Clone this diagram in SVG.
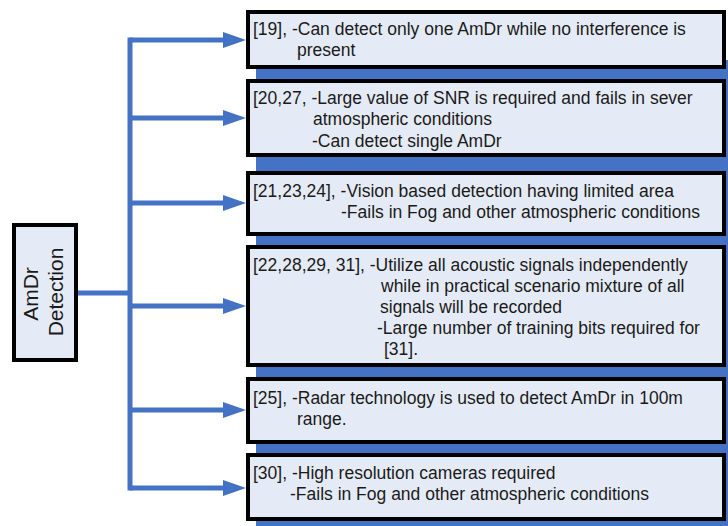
<svg xmlns="http://www.w3.org/2000/svg" width="728" height="526" viewBox="0 0 728 526">
<defs>
<style>
.box{fill:#E5EBF6;stroke:#000;stroke-width:4}
.t{font-family:"Liberation Sans",Arial,sans-serif;font-size:17.5px;fill:#1a1a1a}
.n{font-family:"Liberation Sans",Arial,sans-serif;font-size:21px;fill:#1a1a1a;text-anchor:middle}
.c{fill:none;stroke:#4472C4;stroke-width:5}
</style>
<marker id="ah" markerUnits="userSpaceOnUse" markerWidth="24" markerHeight="18" refX="8" refY="8" orient="auto">
<path d="M0,0 L23,8 L0,16 z" fill="#4472C4"/>
</marker>
</defs>
<rect width="728" height="526" fill="#fff"/>
<rect x="256" y="60" width="472" height="466" fill="#4472C4"/>
<g id="connectors">
<path class="c" d="M78,293 H130"/>
<path class="c" d="M130,37.5 V490.5"/>
<path class="c" d="M130,40 H231" marker-end="url(#ah)"/>
<path class="c" d="M130,118 H231" marker-end="url(#ah)"/>
<path class="c" d="M130,203 H231" marker-end="url(#ah)"/>
<path class="c" d="M130,306 H231" marker-end="url(#ah)"/>
<path class="c" d="M130,410 H231" marker-end="url(#ah)"/>
<path class="c" d="M130,488 H231" marker-end="url(#ah)"/>
</g>
<g id="root">
<rect class="box" x="14" y="225" width="62" height="135"/>
<text class="n" transform="translate(38,294) rotate(-90)">AmDr</text>
<text class="n" transform="translate(63,292) rotate(-90)">Detection</text>
</g>
<g id="b1">
<rect class="box" x="248" y="12" width="476" height="55"/>
<text class="t" x="253" y="35">[19], -Can detect only one AmDr while no interference is</text>
<text class="t" x="297" y="56">present</text>
</g>
<g id="b2">
<rect class="box" x="248" y="81" width="476" height="74"/>
<text class="t" x="253" y="104">[20,27, -Large value of SNR is required and fails in sever</text>
<text class="t" x="313" y="125">atmospheric conditions</text>
<text class="t" x="312" y="147">-Can detect single AmDr</text>
</g>
<g id="b3">
<rect class="box" x="248" y="173" width="476" height="61"/>
<text class="t" x="253" y="197">[21,23,24], -Vision based detection having limited area</text>
<text class="t" x="341" y="218">-Fails in Fog and other atmospheric conditions</text>
</g>
<g id="b4">
<rect class="box" x="248" y="247" width="476" height="118"/>
<text class="t" x="253" y="271">[22,28,29, 31], -Utilize all acoustic signals independently</text>
<text class="t" x="381" y="292">while in practical scenario mixture of all</text>
<text class="t" x="380" y="313">signals will be recorded</text>
<text class="t" x="377" y="334">-Large number of training bits required for</text>
<text class="t" x="384" y="355">[31].</text>
</g>
<g id="b5">
<rect class="box" x="248" y="379" width="476" height="63"/>
<text class="t" x="253" y="404">[25], -Radar technology is used to detect AmDr in 100m</text>
<text class="t" x="297" y="425">range.</text>
</g>
<g id="b6">
<rect class="box" x="248" y="455" width="476" height="64"/>
<text class="t" x="253" y="479">[30], -High resolution cameras required</text>
<text class="t" x="290" y="500">-Fails in Fog and other atmospheric conditions</text>
</g>
</svg>
